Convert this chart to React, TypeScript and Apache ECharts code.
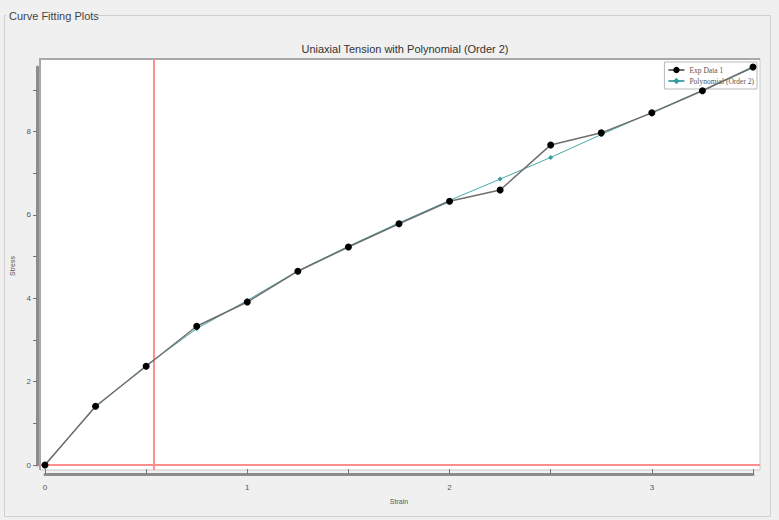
import React, { useEffect, useRef } from "react";
import * as echarts from "echarts";

// ---- data ----
const strain = [0, 0.25, 0.5, 0.75, 1.0, 1.25, 1.5, 1.75, 2.0, 2.25, 2.5, 2.75, 3.0, 3.25, 3.5];
const expData1 = [0, 1.41, 2.37, 3.33, 3.91, 4.65, 5.23, 5.79, 6.33, 6.6, 7.68, 7.97, 8.45, 8.98, 9.55];
const polyOrder2 = [0.02, 1.39, 2.39, 3.27, 3.95, 4.66, 5.25, 5.81, 6.35, 6.86, 7.38, 7.93, 8.46, 8.99, 9.53];
const xTickValues = [0, 0.5, 1, 1.5, 2, 2.5, 3, 3.5];
const xTickLabels = [0, 1, 2, 3];
const yTickValues = [0, 1, 2, 3, 4, 5, 6, 7, 8, 9];
const yTickLabels = [0, 2, 4, 6, 8];
const refStrain = 0.535;
const refStress = 0;

const FONT = "'Liberation Sans Narrow', 'Liberation Sans', Arial, sans-serif";

export default function App() {
  const ref = useRef<HTMLDivElement>(null);

  useEffect(() => {
    if (!ref.current) return;
    const chart = echarts.init(ref.current, undefined, { renderer: "svg" });

    const xMin = strain[0];
    const xMax = strain[strain.length - 1];
    const yMin = 0;
    const yMax = Math.max(...expData1);

    // pixel geometry of data grid
    const gL = 45, gR = 26, gT = 67, gB = 55;
    const W = 779, H = 520;
    const gW = W - gL - gR;
    const gH = H - gT - gB;
    const pxX = gW / (xMax - xMin);
    const pxY = gH / (yMax - yMin);
    // outer plot frame
    const pL = 40, pT = 59, pR = 760, pBot = 470;

    const option: any = {
      animation: false,
      backgroundColor: "#f0f0f0",
      title: {
        text: "Uniaxial Tension with Polynomial (Order 2)",
        left: 400,
        top: 38,
        textAlign: "center",
        textStyle: { fontSize: 11, fontWeight: "normal", color: "#333", fontFamily: FONT },
      },
      graphic: [
        {
          type: "rect",
          shape: { x: 4.5, y: 15.5, width: 766, height: 501 },
          style: { fill: "none", stroke: "#d0d0d0", lineWidth: 1 },
          silent: true,
          z: 0,
        },
        {
          type: "rect",
          shape: { x: 6, y: 8, width: 93, height: 15 },
          style: { fill: "#f0f0f0" },
          silent: true,
          z: 1,
        },
        {
          type: "text",
          x: 9,
          y: 16,
          style: {
            text: "Curve Fitting Plots",
            fontSize: 11,
            fontFamily: FONT,
            fill: "#444",
            verticalAlign: "middle",
          },
          silent: true,
          z: 2,
        },
        {
          type: "polyline",
          shape: { points: [[pL, pBot], [pL, pT], [pR, pT]] },
          style: { stroke: "#a8a8a8", lineWidth: 2, fill: "none" },
          silent: true,
          z: 1,
        },
      ],
      legend: {
        orient: "vertical",
        right: 22,
        top: 62,
        z: 1,
        backgroundColor: "#fff",
        borderColor: "#b8b8b8",
        borderWidth: 1,
        padding: [4, 3, 4, 3],
        itemGap: 3,
        itemWidth: 16,
        itemHeight: 8,
        textStyle: { fontSize: 7.5, fontFamily: "'Liberation Serif', serif", color: "#555" },
        data: ["Exp Data 1", "Polynomial (Order 2)"],
      },
      grid: [
        {
          left: pL,
          top: pT,
          width: pR - pL,
          height: pBot - pT,
          show: true,
          backgroundColor: "#ffffff",
          borderColor: "#c8c8c8",
          borderWidth: 1,
        },
        { left: gL, right: gR, top: gT, bottom: gB },
      ],
      xAxis: [
        {
          gridIndex: 0,
          type: "value",
          min: xMin - (gL - pL) / pxX,
          max: xMax + (pR - (W - gR)) / pxX,
          show: false,
        },
        {
          gridIndex: 1,
          type: "value",
          min: xMin,
          max: xMax,
          offset: 9,
          axisLine: { show: true, onZero: false, lineStyle: { color: "#8c8c8c", width: 3 } },
          axisTick: { show: true, inside: true, length: 5, customValues: xTickValues, lineStyle: { color: "#777" } },
          axisLabel: { customValues: xTickLabels, fontSize: 8, color: "#555", margin: 9, fontFamily: FONT },
          splitLine: { show: false },
          name: "Strain",
          nameLocation: "middle",
          nameGap: 24,
          nameTextStyle: { fontSize: 7, color: "#555", fontFamily: FONT },
        },
      ],
      yAxis: [
        {
          gridIndex: 0,
          type: "value",
          min: yMin - (pBot - (H - gB)) / pxY,
          max: yMax + (gT - pT) / pxY,
          show: false,
        },
        {
          gridIndex: 1,
          type: "value",
          min: yMin,
          max: yMax,
          offset: 8,
          axisLine: { show: true, onZero: false, lineStyle: { color: "#8c8c8c", width: 3 } },
          axisTick: { show: true, inside: false, length: 4, customValues: yTickValues, lineStyle: { color: "#777" } },
          axisLabel: { customValues: yTickLabels, fontSize: 8, color: "#555", margin: 6, fontFamily: FONT },
          splitLine: { show: false },
          name: "Stress",
          nameLocation: "middle",
          nameGap: 19,
          nameRotate: 90,
          nameTextStyle: { fontSize: 7, color: "#555", fontFamily: FONT },
        },
      ],
      series: [
        {
          type: "line",
          xAxisIndex: 0,
          yAxisIndex: 0,
          data: [],
          silent: true,
          markLine: {
            silent: true,
            symbol: "none",
            label: { show: false },
            lineStyle: { color: "#ff8f8f", width: 2, type: "solid" },
            data: [{ xAxis: refStrain }, { yAxis: refStress }],
          },
        },
        {
          name: "Exp Data 1",
          type: "line",
          xAxisIndex: 1,
          yAxisIndex: 1,
          data: strain.map((x, i) => [x, expData1[i]]),
          symbol: "circle",
          symbolSize: 7,
          itemStyle: { color: "#000" },
          lineStyle: { color: "#6e6e6e", width: 1.5 },
          clip: false,
          z: 5,
        },
        {
          name: "Polynomial (Order 2)",
          type: "line",
          xAxisIndex: 1,
          yAxisIndex: 1,
          data: strain.map((x, i) => [x, polyOrder2[i]]),
          symbol: "diamond",
          symbolSize: 5,
          itemStyle: { color: "#3a9d9d" },
          lineStyle: { color: "#4aa9a9", width: 1 },
          clip: false,
          z: 4,
        },
      ],
    };

    chart.setOption(option);
    return () => chart.dispose();
  }, []);

  return (
    <div
      ref={ref}
      style={{ position: "fixed", left: 0, top: 0, width: 779, height: 520, background: "#f0f0f0" }}
    />
  );
}
